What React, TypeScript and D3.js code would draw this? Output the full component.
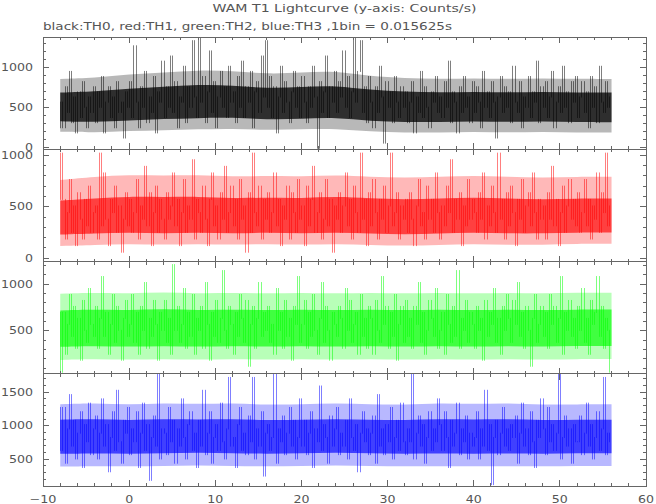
import * as d3 from 'd3';

// 1 bin = 0.015625 s; one stored sample every 0.25 s, values are counts per bin
const BIN = 0.015625;
const T_START = -8;
const SAMPLE_STEP = 0.25;
const BAND_STEP = 4;

const th0Counts = [
  9, 4, 12, 7, 15, 5, 10, 3, 11, 6, 13, 8, 4, 10, 7, 12,
  5, 11, 8, 14, 3, 9, 12, 6, 10, 4, 13, 7, 9, 2, 11, 8,
  13, 6, 20, 9, 4, 12, 8, 15, 5, 10, 7, 14, 3, 11, 9, 17,
  6, 12, 8, 18, 7, 13, 4, 10, 9, 16, 5, 12, 8, 21, 10, 6,
  22, 9, 14, 5, 11, 19, 7, 13, 4, 10, 15, 8, 12, 6, 16, 9,
  11, 5, 14, 8, 17, 6, 12, 9, 15, 4, 11, 13, 7, 18, 10, 21,
  8, 14, 6, 12, 3, 10, 16, 7, 13, 9, 5, 11, 15, 8, 12, 6,
  14, 9, 5, 12, 8, 16, 10, 0, 13, 7, 11, 18, 6, 12, 9, 15,
  7, 13, 10, 19, 8, 14, 6, 11, 22, 9, 15, 21, 7, 12, 5, 14,
  9, 4, 12, 7, 16, 10, 1, 13, 8, 11, 5, 14, 9, 6, 12, 8,
  11, 5, 9, 13, 3, 10, 7, 15, 6, 12, 8, 4, 11, 9, 14, 7,
  10, 6, 13, 8, 17, 5, 11, 9, 3, 12, 7, 14, 8, 10, 5, 13,
  7, 12, 9, 4, 15, 8, 11, 6, 13, 9, 2, 10, 14, 7, 12, 8,
  11, 5, 16, 9, 7, 13, 4, 10, 8, 14, 6, 11, 9, 17, 5, 12,
  8, 13, 6, 10, 15, 4, 9, 12, 7, 16, 8, 11, 5, 13, 9, 14,
  6, 10, 13, 7, 11, 4, 14, 8, 12, 5, 16, 9, 7, 13, 8, 10,
];

const th1Counts = [
  16, 9, 3, 7, 12, 4, 8, 2, 10, 6, 3, 9, 5, 11, 4, 7,
  8, 3, 16, 5, 13, 6, 2, 9, 7, 11, 4, 8, 1, 6, 10, 5,
  9, 4, 7, 12, 3, 8, 6, 14, 5, 10, 2, 7, 11, 4, 9, 6,
  3, 10, 6, 8, 13, 5, 9, 2, 7, 12, 4, 8, 6, 15, 3, 9,
  7, 4, 11, 6, 2, 9, 13, 5, 8, 3, 10, 6, 14, 4, 7, 11,
  5, 9, 3, 12, 6, 8, 1, 10, 4, 16, 7, 5, 11, 3, 9, 6,
  10, 4, 7, 13, 5, 9, 2, 8, 6, 11, 3, 10, 7, 4, 12, 6,
  8, 2, 11, 5, 9, 14, 4, 7, 10, 3, 6, 12, 5, 9, 1, 8,
  6, 10, 4, 8, 13, 5, 9, 3, 11, 7, 4, 16, 6, 9, 2, 10,
  5, 12, 7, 3, 9, 6, 11, 4, 8, 16, 5, 7, 10, 3, 8, 6,
  9, 4, 10, 6, 2, 8, 12, 5, 7, 3, 11, 6, 9, 4, 13, 7,
  3, 8, 5, 11, 7, 15, 4, 9, 6, 10, 2, 8, 5, 12, 6, 9,
  7, 4, 10, 6, 13, 3, 8, 5, 11, 7, 4, 16, 6, 9, 3, 10,
  5, 11, 7, 2, 9, 6, 12, 4, 8, 10, 5, 13, 7, 3, 9, 6,
  8, 3, 10, 6, 14, 5, 9, 2, 7, 11, 4, 8, 12, 6, 9, 5,
  10, 4, 7, 12, 5, 9, 3, 8, 6, 13, 4, 10, 7, 16, 5, 8,
];

const th2Counts = [
  1, 11, 4, 9, 14, 7, 12, 5, 10, 3, 13, 8, 6, 15, 9, 7,
  12, 5, 10, 17, 7, 11, 4, 9, 14, 6, 12, 8, 3, 10, 13, 7,
  9, 14, 6, 11, 4, 12, 8, 16, 5, 10, 7, 13, 9, 3, 11, 8,
  13, 6, 10, 4, 19, 8, 12, 6, 9, 15, 5, 11, 7, 14, 4, 10,
  8, 12, 5, 16, 9, 3, 11, 7, 13, 6, 10, 18, 8, 5, 12, 9,
  4, 11, 7, 14, 10, 6, 13, 2, 9, 12, 5, 10, 16, 7, 11, 8,
  12, 6, 9, 4, 15, 8, 11, 5, 13, 7, 10, 3, 12, 9, 17, 6,
  9, 13, 5, 11, 7, 14, 8, 4, 10, 16, 6, 12, 8, 3, 11, 9,
  7, 12, 10, 5, 15, 8, 13, 6, 9, 11, 4, 14, 7, 10, 5, 12,
  10, 4, 13, 8, 6, 17, 9, 12, 5, 11, 7, 14, 3, 9, 12, 6,
  13, 7, 10, 5, 12, 9, 16, 6, 11, 4, 8, 13, 10, 7, 15, 5,
  8, 11, 4, 14, 9, 6, 12, 7, 18, 5, 10, 8, 13, 6, 11, 9,
  5, 12, 8, 10, 3, 13, 7, 11, 9, 15, 6, 10, 4, 12, 8, 14,
  10, 6, 13, 9, 16, 7, 11, 5, 12, 8, 2, 10, 14, 6, 9, 12,
  7, 11, 5, 14, 9, 12, 6, 10, 17, 4, 11, 8, 13, 7, 10, 5,
  12, 8, 15, 6, 10, 4, 13, 9, 11, 17, 7, 12, 5, 10, 8, 1,
];

const th3Counts = [
  10, 20, 7, 15, 23, 11, 17, 8, 14, 19, 6, 16, 12, 21, 9, 15,
  18, 8, 14, 22, 11, 16, 5, 13, 19, 10, 24, 12, 7, 17, 14, 20,
  9, 15, 12, 19, 6, 14, 21, 10, 16, 3, 13, 18, 11, 28, 8, 15,
  14, 9, 20, 12, 17, 7, 15, 11, 22, 13, 8, 16, 19, 10, 14, 6,
  17, 11, 24, 9, 14, 19, 7, 13, 16, 10, 21, 12, 8, 15, 27, 11,
  13, 6, 16, 20, 10, 14, 9, 18, 12, 27, 8, 15, 11, 19, 4, 14,
  16, 10, 13, 28, 7, 15, 12, 18, 9, 14, 20, 11, 17, 8, 13, 22,
  11, 17, 9, 14, 19, 6, 15, 12, 25, 10, 16, 13, 7, 18, 11, 15,
  20, 9, 14, 11, 17, 8, 22, 13, 10, 16, 5, 14, 19, 12, 15, 9,
  14, 18, 7, 23, 11, 15, 9, 16, 12, 20, 8, 13, 17, 10, 21, 12,
  9, 15, 12, 28, 8, 14, 18, 11, 16, 7, 13, 19, 10, 15, 12, 22,
  16, 10, 19, 13, 6, 17, 11, 14, 21, 9, 15, 12, 18, 8, 14, 11,
  13, 19, 8, 15, 11, 24, 10, 16, 2, 13, 17, 9, 14, 20, 11, 15,
  10, 16, 13, 18, 7, 14, 21, 11, 15, 9, 19, 12, 6, 17, 13, 22,
  15, 9, 20, 12, 16, 10, 14, 28, 8, 13, 18, 11, 15, 7, 16, 12,
  12, 18, 9, 14, 21, 11, 16, 8, 13, 19, 10, 15, 27, 9, 14, 12,
];

// dense core of each curve (counts/s), one value per 4 s
const th0Lo = [330, 320, 340, 360, 370, 380, 350, 360, 380, 330, 320, 320, 330, 320, 330, 320];
const th0Hi = [690, 700, 740, 760, 790, 780, 740, 760, 780, 720, 700, 690, 700, 690, 700, 690];
const th1Lo = [230, 240, 250, 240, 250, 240, 250, 240, 250, 240, 230, 240, 250, 240, 240, 250];
const th1Hi = [560, 580, 600, 590, 600, 580, 590, 580, 600, 580, 570, 580, 590, 580, 570, 580];
const th2Lo = [330, 340, 330, 340, 330, 340, 330, 340, 330, 340, 330, 340, 330, 340, 330, 340];
const th2Hi = [720, 730, 720, 740, 720, 730, 720, 730, 720, 730, 720, 730, 720, 730, 720, 730];
const th3Lo = [580, 590, 580, 590, 600, 590, 580, 590, 600, 590, 580, 590, 580, 590, 580, 590];
const th3Hi = [1090, 1100, 1080, 1100, 1090, 1100, 1080, 1090, 1100, 1090, 1080, 1100, 1090, 1100, 1080, 1090];

// lighter spread around the core (counts/s), one value per 4 s
const th0OutLo = [200, 190, 210, 220, 230, 240, 220, 230, 240, 200, 190, 190, 200, 190, 200, 190];
const th0OutHi = [860, 870, 920, 940, 970, 960, 920, 940, 960, 890, 870, 860, 870, 860, 870, 860];
const th1OutLo = [120, 130, 140, 130, 140, 130, 140, 130, 140, 130, 120, 130, 140, 130, 130, 140];
const th1OutHi = [760, 790, 810, 800, 810, 790, 800, 790, 810, 790, 780, 790, 800, 790, 780, 790];
const th2OutLo = [190, 200, 190, 200, 190, 200, 190, 200, 190, 200, 190, 200, 190, 200, 190, 200];
const th2OutHi = [900, 910, 900, 920, 900, 910, 900, 910, 900, 910, 900, 910, 900, 910, 900, 910];
const th3OutLo = [390, 400, 390, 400, 410, 400, 390, 400, 410, 400, 390, 400, 390, 400, 390, 400];
const th3OutHi = [1320, 1340, 1310, 1340, 1320, 1340, 1310, 1320, 1340, 1320, 1310, 1340, 1320, 1340, 1310, 1320];

const yDomains: [number, number][] = [[-19, 1384], [-31, 1057], [42, 1244], [100, 1776]];
const yLabels = [[0, 500, 1000], [0, 500, 1000], [500, 1000], [500, 1000, 1500]];
const xLabels = [-10, 0, 10, 20, 30, 40, 50, 60];
const colors = ['#000000', '#ff0000', '#00ff00', '#0000ff'];
const coreOpacity = [0.75, 0.65, 0.65, 0.65];

const title = 'WAM T1 Lightcurve (y-axis: Counts/s)';
const subtitle = 'black:TH0, red:TH1, green:TH2, blue:TH3 ,1bin = 0.015625s';

const W = 656;
const H = 504;
const left = 43;
const right = 646;
const top = 37;
const bottom = 486;
const panelH = (bottom - top) / 4;
const axisColor = '#666';
const textColor = '#555';
const font = 'DejaVu Sans, sans-serif';

const x = d3.scaleLinear().domain([-10, 60]).range([left, right]);

const panels = [
  { counts: th0Counts, lo: th0Lo, hi: th0Hi, outLo: th0OutLo, outHi: th0OutHi },
  { counts: th1Counts, lo: th1Lo, hi: th1Hi, outLo: th1OutLo, outHi: th1OutHi },
  { counts: th2Counts, lo: th2Lo, hi: th2Hi, outLo: th2OutLo, outHi: th2OutHi },
  { counts: th3Counts, lo: th3Lo, hi: th3Hi, outLo: th3OutLo, outHi: th3OutHi },
];

type Span = { lo: number; hi: number };

function Panel({ idx }: { idx: number }) {
  const p = panels[idx];
  const y0 = top + idx * panelH;
  const y1 = y0 + panelH;
  const [d0, d1] = yDomains[idx];
  const y = d3.scaleLinear().domain([d0, d1]).range([y1, y0]);
  const color = colors[idx];

  const rates = p.counts.map((c) => c / BIN);
  // each sample drawn as the vertical jump from its neighbour (histogram steps)
  const swings = rates.map((v, i) => {
    const prev = i > 0 ? rates[i - 1] : rates[i + 1];
    return { t: T_START + i * SAMPLE_STEP, a: Math.min(prev, v), b: Math.max(prev, v) };
  });
  const tEnd = T_START + rates.length * SAMPLE_STEP;

  const toSpans = (lo: number[], hi: number[]): Span[] => {
    const s = lo.map((v, i) => ({ lo: v, hi: hi[i] }));
    s.push(s[s.length - 1]);
    return s;
  };
  const band = d3
    .area<Span>()
    .x((_, i) => Math.min(x(tEnd), x(T_START + i * BAND_STEP)))
    .y0((d) => y(d.lo))
    .y1((d) => y(d.hi))
    .curve(d3.curveBasis);

  const xTicks = d3.range(-10, 61, 2);
  const yTicks = d3.range(Math.ceil(d0 / 100) * 100, d1, 100);
  const clipId = `clip-${idx}`;

  return (
    <g>
      <clipPath id={clipId}>
        <rect x={left} y={y0} width={right - left} height={panelH} />
      </clipPath>
      <g clipPath={`url(#${clipId})`}>
        <path d={band(toSpans(p.outLo, p.outHi)) ?? ''} fill={color} fillOpacity={0.28} />
        <path d={band(toSpans(p.lo, p.hi)) ?? ''} fill={color} fillOpacity={coreOpacity[idx]} />
        <g stroke={color} strokeOpacity={0.5} strokeWidth={1}>
          {swings.map((s, i) => {
            const xs = Math.round(x(s.t)) + 0.5;
            return <line key={i} x1={xs} x2={xs} y1={y(s.b)} y2={y(s.a) + 1} />;
          })}
        </g>
      </g>
      <g stroke={axisColor} strokeWidth={1} shapeRendering="crispEdges">
        <rect x={left} y={y0} width={right - left} height={panelH} fill="none" />
        {xTicks.map((v) => {
          const len = v % 10 === 0 ? 6 : 3;
          return (
            <g key={`x${v}`}>
              <line x1={x(v)} x2={x(v)} y1={y1} y2={y1 - len} />
              <line x1={x(v)} x2={x(v)} y1={y0} y2={y0 + len} />
            </g>
          );
        })}
        {yTicks.map((v) => {
          const len = v % 500 === 0 ? 6 : 3;
          return (
            <g key={`y${v}`}>
              <line x1={left} x2={left + len} y1={y(v)} y2={y(v)} />
              <line x1={right} x2={right - len} y1={y(v)} y2={y(v)} />
            </g>
          );
        })}
      </g>
      {yLabels[idx].map((v) => (
        <text
          key={`l${v}`}
          x={33}
          y={y(v) + 3.5}
          textAnchor="end"
          fontFamily={font}
          fontSize={10.5}
          fill={textColor}
          textLength={String(v).length * 8}
          lengthAdjust="spacingAndGlyphs"
        >
          {v}
        </text>
      ))}
    </g>
  );
}

export default function App() {
  return (
    <svg width={W} height={H} style={{ position: 'absolute', left: 0, top: 0, background: '#fff' }}>
      <rect width={W} height={H} fill="#fff" />
      <text
        x={(left + right) / 2}
        y={12}
        textAnchor="middle"
        fontFamily={font}
        fontSize={11}
        fill={textColor}
        textLength={264}
        lengthAdjust="spacingAndGlyphs"
      >
        {title}
      </text>
      <text
        x={left}
        y={30}
        fontFamily={font}
        fontSize={11}
        fill={textColor}
        textLength={409}
        lengthAdjust="spacingAndGlyphs"
      >
        {subtitle}
      </text>
      {panels.map((_, i) => (
        <Panel key={i} idx={i} />
      ))}
      {xLabels.map((v) => (
        <text
          key={v}
          x={x(v)}
          y={503}
          textAnchor="middle"
          fontFamily={font}
          fontSize={10.5}
          fill={textColor}
          textLength={v < 0 ? 27 : String(v).length * 8}
          lengthAdjust="spacingAndGlyphs"
        >
          {v < 0 ? `\u2212${Math.abs(v)}` : v}
        </text>
      ))}
    </svg>
  );
}
